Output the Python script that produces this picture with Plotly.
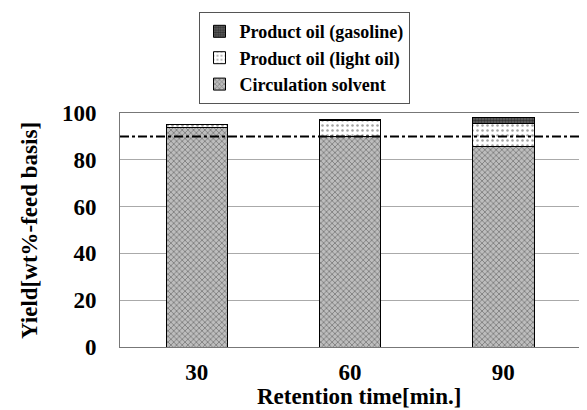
import plotly.graph_objects as go

categories = ["30", "60", "90"]
circulation_solvent = [94.0, 90.0, 85.5]
light_oil = [1.1, 6.6, 10.2]
gasoline = [0.2, 0.7, 2.2]
target_line = 90
y_ticks = [0, 20, 40, 60, 80, 100]

FONT = "Liberation Serif, Times New Roman, serif"
TICKF = dict(family=FONT, size=23, color="black", weight="bold")

fig = go.Figure()
fig.add_trace(go.Bar(
    x=categories, y=circulation_solvent, name="Circulation solvent",
    marker=dict(color="#b0b0b0", line=dict(color="black", width=1),
                pattern=dict(shape="x", fgcolor="#404040", bgcolor="#bdbdbd", size=4, solidity=0.4)),
))
fig.add_trace(go.Bar(
    x=categories, y=light_oil, name="Product oil (light oil)",
    marker=dict(color="white", line=dict(color="black", width=1),
                pattern=dict(shape=".", fgcolor="#444444", bgcolor="white", size=5, solidity=0.2)),
))
fig.add_trace(go.Bar(
    x=categories, y=gasoline, name="Product oil (gasoline)",
    marker=dict(color="#222222", line=dict(color="black", width=1),
                pattern=dict(shape=".", fgcolor="black", bgcolor="#666666", size=3, solidity=0.6)),
))

fig.add_shape(type="line", xref="paper", x0=0, x1=1, yref="y", y0=target_line, y1=target_line,
              line=dict(color="black", width=2, dash="dashdot"), layer="above")

fig.add_annotation(text="Retention time[min.]", xref="paper", yref="paper", x=0.52, y=-0.212,
                   xanchor="center", yanchor="middle", showarrow=False,
                   font=dict(family=FONT, size=23, color="black", weight="bold"))
fig.add_annotation(text="Yield[wt%-feed basis]", xref="paper", yref="paper", x=-0.198, y=0.5,
                   xanchor="center", yanchor="middle", showarrow=False, textangle=-90,
                   font=dict(family=FONT, size=23, color="black", weight="bold"))

fig.update_layout(
    width=587, height=410,
    margin=dict(l=112, r=15, t=105, b=71, autoexpand=False),
    barmode="stack", bargap=0.6,
    plot_bgcolor="white", paper_bgcolor="white",
    font=dict(family=FONT, size=18, color="black"),
    showlegend=True,
    legend=dict(
        traceorder="reversed", x=0.4, y=0.99, yref="container", xanchor="center", yanchor="top",
        bordercolor="#555555", borderwidth=1, bgcolor="white",
        font=dict(family=FONT, size=18, color="black", weight="bold"),
        itemwidth=30, tracegroupgap=0,
    ),
    xaxis=dict(
        type="category", showline=True, linecolor="#777777", linewidth=1, mirror=True,
        ticks="", tickfont=TICKF, ticklabelstandoff=4, automargin=False,
    ),
    yaxis=dict(
        range=[0, 100], tickvals=y_ticks, showline=True, linecolor="#777777", linewidth=1, mirror=True,
        showgrid=True, gridcolor="#aaaaaa", gridwidth=1, zeroline=False, automargin=False,
        ticks="", tickfont=TICKF, ticklabelstandoff=18,
    ),
)

fig.write_html("out.html")
